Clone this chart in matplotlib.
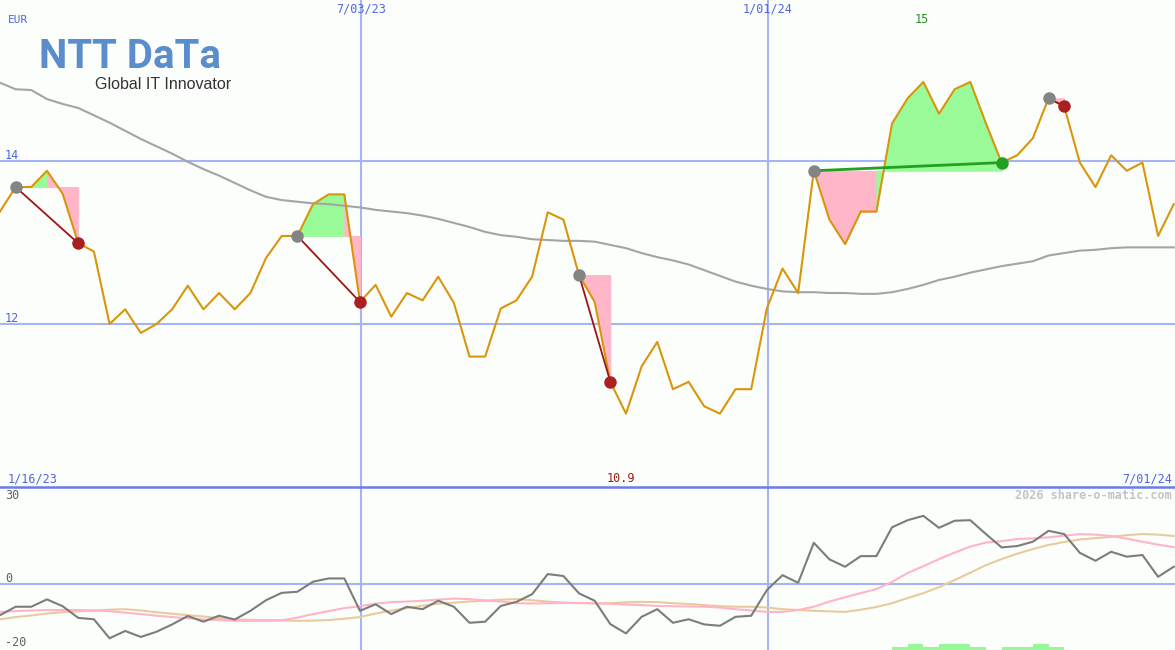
import numpy as np
import matplotlib.pyplot as plt
from matplotlib.lines import Line2D

# weekly closes, EUR (index 0 = first week shown)
price = [13.38, 13.68, 13.68, 13.88, 13.60, 12.99, 12.89, 12.00, 12.18, 11.89,
         12.00, 12.18, 12.47, 12.18, 12.38, 12.18, 12.38, 12.81, 13.08, 13.08,
         13.47, 13.59, 13.59, 12.27, 12.48, 12.09, 12.38, 12.29, 12.58, 12.26,
         11.60, 11.60, 12.19, 12.29, 12.58, 13.37, 13.28, 12.60, 12.27, 11.29,
         10.90, 11.48, 11.78, 11.20, 11.29, 10.99, 10.90, 11.20, 11.20, 12.19,
         12.68, 12.38, 13.88, 13.28, 12.98, 13.38, 13.38, 14.46, 14.77, 14.97,
         14.58, 14.88, 14.97, 14.46, 13.98, 14.07, 14.28, 14.77, 14.67, 13.98,
         13.68, 14.07, 13.88, 13.98, 13.08, 13.47]
ma = [14.96, 14.88, 14.87, 14.76, 14.70, 14.65, 14.56, 14.47, 14.37, 14.27,
      14.18, 14.09, 13.99, 13.90, 13.82, 13.73, 13.64, 13.56, 13.52, 13.50,
      13.48, 13.47, 13.45, 13.43, 13.40, 13.38, 13.36, 13.33, 13.29, 13.24,
      13.19, 13.13, 13.09, 13.07, 13.04, 13.03, 13.02, 13.02, 13.01, 12.97,
      12.93, 12.87, 12.82, 12.78, 12.73, 12.66, 12.59, 12.52, 12.47, 12.43,
      12.40, 12.39, 12.39, 12.38, 12.38, 12.37, 12.37, 12.39, 12.43, 12.48,
      12.54, 12.58, 12.63, 12.67, 12.71, 12.74, 12.77, 12.84, 12.87, 12.90,
      12.91, 12.93, 12.94, 12.94, 12.94, 12.94]

# lower panel oscillators
osc = [-11.6, -8.5, -8.5, -5.8, -8.3, -12.6, -13.1, -20.1, -17.4, -19.6,
       -17.7, -15.0, -11.9, -14.0, -11.8, -13.2, -10.0, -6.1, -3.4, -3.0,
       0.7, 1.9, 1.9, -10.0, -7.6, -11.2, -8.5, -9.4, -6.3, -8.5,
       -14.4, -14.0, -8.2, -6.7, -3.9, 3.5, 2.8, -3.6, -6.3, -14.9,
       -18.3, -12.2, -9.4, -14.4, -13.1, -15.0, -15.5, -12.2, -11.8, -2.4,
       3.1, 0.3, 15.0, 8.9, 6.2, 10.1, 10.1, 20.7, 23.3, 24.9,
       20.5, 23.1, 23.3, 18.2, 13.3, 13.8, 15.4, 19.4, 18.2, 11.3,
       8.4, 11.7, 9.9, 10.5, 2.5, 6.2]
osc_fast = [-10.4, -10.1, -9.9, -9.7, -9.7, -9.7, -9.9, -10.1, -10.7, -11.2,
            -11.8, -12.3, -12.7, -13.2, -13.4, -13.7, -13.7, -13.7, -13.5, -12.5,
            -11.2, -10.1, -9.0, -8.3, -7.4, -6.8, -6.6, -6.3, -5.9, -5.5,
            -5.7, -6.2, -6.6, -7.2, -7.3, -7.2, -7.1, -7.1, -7.2, -7.4,
            -7.7, -7.9, -8.2, -8.3, -8.4, -8.5, -8.8, -9.4, -9.9, -10.4,
            -10.4, -9.7, -8.5, -6.6, -5.0, -3.5, -2.0, 0.6, 3.9, 6.4,
            9.0, 11.4, 13.6, 15.1, 15.6, 16.4, 16.6, 17.0, 17.6, 18.2,
            18.0, 17.5, 16.5, 15.4, 14.3, 13.4]
osc_slow = [-13.1, -12.3, -11.7, -11.0, -10.5, -10.2, -9.9, -9.6, -9.4, -9.9,
            -10.5, -11.1, -11.6, -12.1, -12.7, -13.2, -13.3, -13.4, -13.5, -13.7,
            -13.6, -13.4, -12.9, -12.3, -11.0, -9.9, -9.0, -8.1, -7.4, -7.0,
            -6.6, -6.3, -5.9, -5.7, -6.1, -6.6, -7.0, -7.2, -7.3, -7.2,
            -6.9, -6.7, -6.8, -7.2, -7.5, -7.9, -8.3, -8.5, -8.5, -8.8,
            -9.4, -9.7, -10.0, -10.2, -10.4, -9.6, -8.6, -7.2, -5.3, -3.5,
            -1.3, 1.3, 4.0, 6.8, 9.0, 11.0, 12.7, 14.2, 15.3, 16.2,
            16.7, 17.2, 17.8, 18.2, 18.0, 17.5]

trade_in = [1, 19, 37, 52, 67]
trade_out = [5, 23, 39, 64, 68]

sig_idx = [57, 58, 59, 60, 61, 62, 64, 65, 66, 67]
sig_h = [1.1, 2.2, 1.1, 2.2, 2.2, 1.1, 1.1, 1.1, 2.2, 1.1]

date_pos = [23.07, 49.07]
date_lab = ['7/03/23', '1/01/24']
first_lab, last_lab = '1/16/23', '7/01/24'

x = np.arange(len(price))
price = np.array(price)

bg = '#fcfefc'
grid_c = '#a4b4f4'
blue_txt = '#5064e6'
green_fill, pink_fill = '#98fb98', '#ffb6c8'
mono = 'DejaVu Sans Mono'

fig = plt.figure(figsize=(11.75, 6.5), dpi=100, facecolor=bg)
ax = fig.add_axes([0, 163 / 650, 1, 487 / 650])
ax2 = fig.add_axes([0, 0, 1, 163 / 650])
for a in (ax, ax2):
    a.set_facecolor(bg)
    a.set_axis_off()
    a.set_xlim(0, 75.08)
    for p in date_pos:
        a.axvline(p, color=grid_c, lw=1.5, zorder=1)

ax.set_ylim(10.0, 15.975)
ax2.set_ylim(-24.4, 35.5)
for lvl in (14, 12):
    ax.axhline(lvl, color=grid_c, lw=1.5, zorder=1)
ax2.axhline(0, color=grid_c, lw=1.5, zorder=1)
fig.add_artist(Line2D([0, 1], [1 - 487 / 650] * 2, transform=fig.transFigure,
                      color='#6c7cea', lw=1.8))

# trade fills: each segment coloured by where it ends vs the entry price
for i0, i1 in zip(trade_in, trade_out):
    ref = price[i0]
    for k in range(i0, i1):
        c = green_fill if price[k + 1] > ref else pink_fill
        ax.fill_between(x[k:k + 2], price[k:k + 2], ref, facecolor=c,
                        edgecolor=c, lw=0.6, zorder=2)

ax.plot(x, ma, color='#a4a4a4', lw=1.5, zorder=3)
ax.plot(x, price, color='#d9960a', lw=1.5, zorder=4)

for i0, i1 in zip(trade_in, trade_out):
    win = price[i1] > price[i0]
    lc = '#22a022' if win else '#a01414'
    ax.plot([x[i0], x[i1]], [price[i0], price[i1]], color=lc,
            lw=2 if win else 1.3, zorder=5)
    ax.plot(x[i0], price[i0], 'o', color='#848484', ms=9, mew=0, zorder=6)
    ax.plot(x[i1], price[i1], 'o', color='#22a022' if win else '#aa2020',
            ms=9, mew=0, zorder=6)

# labels
ytr = ax.get_yaxis_transform()
ax.text(8 / 1175, 15.73, 'EUR', transform=ytr, color=blue_txt, fontsize=8,
        family=mono, va='center')
for lvl in (14, 12):
    ax.text(5 / 1175, lvl + 0.065, str(lvl), transform=ytr, color=blue_txt,
            fontsize=8.5, family=mono, va='center')
for p, lab in zip(date_pos, date_lab):
    ax.text(p, 15.865, lab, color=blue_txt, fontsize=8.5, family=mono,
            ha='center', va='center')
ax.text(8 / 1175, 10.1, first_lab, transform=ytr, color=blue_txt,
        fontsize=8.5, family=mono, va='center')
ax.text(1172 / 1175, 10.1, last_lab, transform=ytr, color=blue_txt,
        fontsize=8.5, family=mono, va='center', ha='right')
imax, imin = int(np.argmax(price)), int(np.argmin(price))
ax.text(x[imax] - 0.1, 15.73, '%g' % round(price[imax], 1), color='#229022',
        fontsize=8.5, family=mono, ha='center', va='center')
ax.text(x[imin] - 0.3, 10.11, '%g' % round(price[imin], 1), color='#a01818',
        fontsize=8.5, family=mono, ha='center', va='center')

# logo
fig.text(39 / 1175, 1 - 67.5 / 650, 'NTT DaTa', color='#5a8dcb', fontsize=29,
         family='Roboto', weight='bold', va='baseline', ha='left')
fig.text(95 / 1175, 1 - 89 / 650, 'Global IT Innovator', color='#333333',
         fontsize=11.5, family='Liberation Sans', va='baseline', ha='left')

# lower panel
ax2.plot(x, osc_slow, color='#e6cc9c', lw=1.5, zorder=3)
ax2.plot(x, osc_fast, color='#ffb4c8', lw=1.5, zorder=3)
ax2.plot(x, osc, color='#7c7c7c', lw=1.5, zorder=4)
ax2.bar(sig_idx, sig_h, width=1, align='edge', bottom=-24.4,
        color='#98f898', lw=0, zorder=2)
ytr2 = ax2.get_yaxis_transform()
for val, lab in ((32.2, '30'), (2.0, '0'), (-21.5, '-20')):
    ax2.text(5 / 1175, val, lab, transform=ytr2, color='#606060',
             fontsize=8.5, family=mono, va='center')
ax2.text(1172 / 1175, 32.2, '2026 share-o-matic.com', transform=ytr2,
         color='#c4c4c4', fontsize=8.5, family=mono, weight='bold',
         ha='right', va='center')

fig.savefig('out.png', dpi=100, facecolor=bg)
